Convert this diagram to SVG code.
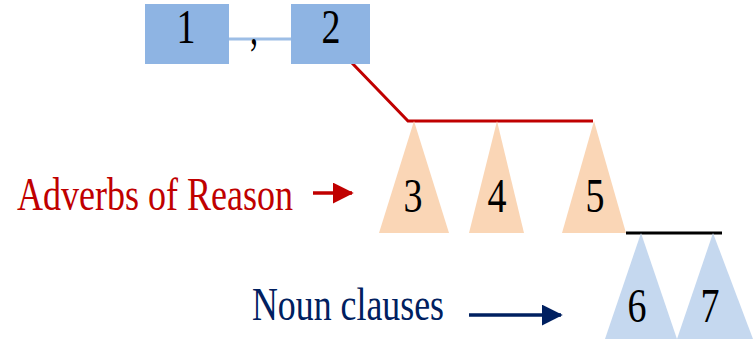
<svg xmlns="http://www.w3.org/2000/svg" width="754" height="339" viewBox="0 0 754 339">
<style>
.box{fill:#8EB4E3}
.tri-o{fill:#FAD6B6}
.tri-b{fill:#C5D8EF}
.num{font-family:"Liberation Serif",serif;font-size:48px;fill:#000;text-anchor:middle}
.lbl{font-family:"Liberation Serif",serif;font-size:46px}
</style>
<defs>
<marker id="ar" markerWidth="6" markerHeight="6" refX="5.5" refY="3" orient="auto" markerUnits="strokeWidth"><path d="M0,0 L6,3 L0,6 Z" fill="#C00000"/></marker>
<marker id="an" markerWidth="6" markerHeight="6" refX="5.5" refY="3" orient="auto" markerUnits="strokeWidth"><path d="M0,0 L6,3 L0,6 Z" fill="#002060"/></marker>
</defs>
<g id="connectors">
<line x1="229" y1="39" x2="291" y2="39" stroke="#9DBEE6" stroke-width="3"/>
<polyline points="352,63 408,121 593,121" fill="none" stroke="#C00000" stroke-width="3"/>
<line x1="626" y1="233" x2="722" y2="233" stroke="#000" stroke-width="3"/>
</g>
<g id="n1"><rect class="box" x="145" y="4" width="84" height="60"/><text class="num" x="186" y="43" textLength="19" lengthAdjust="spacingAndGlyphs">1</text></g>
<g id="comma"><text class="num" x="254" y="44" font-size="36" textLength="8" lengthAdjust="spacingAndGlyphs">,</text></g>
<g id="n2"><rect class="box" x="291" y="4" width="79" height="60"/><text class="num" x="331" y="43" textLength="19" lengthAdjust="spacingAndGlyphs">2</text></g>
<g id="n3"><polygon class="tri-o" points="414,121 449,233 379,233"/><text class="num" x="413" y="212" textLength="19" lengthAdjust="spacingAndGlyphs">3</text></g>
<g id="n4"><polygon class="tri-o" points="497,121 524,233 469,233"/><text class="num" x="497" y="212" textLength="19" lengthAdjust="spacingAndGlyphs">4</text></g>
<g id="n5"><polygon class="tri-o" points="594,121 626,233 562,233"/><text class="num" x="595" y="212" textLength="19" lengthAdjust="spacingAndGlyphs">5</text></g>
<g id="n6"><polygon class="tri-b" points="641,233 677,339 605,339"/><text class="num" x="637" y="322" textLength="19" lengthAdjust="spacingAndGlyphs">6</text></g>
<g id="n7"><polygon class="tri-b" points="713,233 753,339 677,339"/><text class="num" x="710" y="322" textLength="19" lengthAdjust="spacingAndGlyphs">7</text></g>
<g id="adverbs">
<text class="lbl" x="17" y="210" fill="#C00000" textLength="276" lengthAdjust="spacingAndGlyphs">Adverbs of Reason</text>
<line x1="313" y1="193" x2="352" y2="193" stroke="#C00000" stroke-width="3.5" marker-end="url(#ar)"/>
</g>
<g id="noun">
<text class="lbl" x="252" y="320" fill="#002060" textLength="192" lengthAdjust="spacingAndGlyphs">Noun clauses</text>
<line x1="469" y1="315" x2="561" y2="315" stroke="#002060" stroke-width="3.5" marker-end="url(#an)"/>
</g>
</svg>
